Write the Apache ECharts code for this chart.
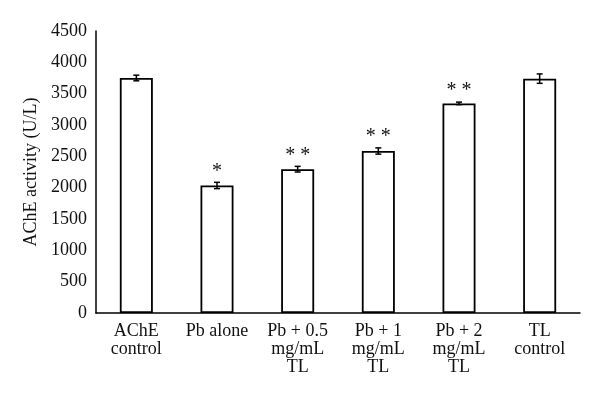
<!DOCTYPE html>
<html>
<head>
<meta charset="utf-8">
<script src="https://cdn.jsdelivr.net/npm/echarts@6/dist/echarts.min.js"></script>
<style>html,body{margin:0;padding:0;background:#fff;}#c{width:600px;height:401px;}</style>
</head>
<body>
<div id="c"></div>
<script>
var categories = ['AChE\ncontrol', 'Pb alone', 'Pb + 0.5\nmg/mL\nTL', 'Pb + 1\nmg/mL\nTL', 'Pb + 2\nmg/mL\nTL', 'TL\ncontrol'];
var values = [3750, 2035, 2295, 2585, 3345, 3740];
var errors = [45, 50, 45, 50, 20, 75];
var stars = ['', '*', '* *', '* *', '* *', ''];
var yTicks = [0, 500, 1000, 1500, 2000, 2500, 3000, 3500, 4000, 4500];

var FONT = 'Liberation Serif';
var chart = echarts.init(document.getElementById('c'), null, {renderer: 'canvas'});
var errData = values.map(function (v, i) { return [i, v, errors[i]]; });

chart.setOption({
  animation: false,
  backgroundColor: '#fff',
  grid: {left: 96, right: 20, top: 31, bottom: 88},
  xAxis: {
    type: 'category',
    data: categories,
    axisLine: {lineStyle: {color: '#000', width: 1.5}},
    axisTick: {show: false},
    axisLabel: {color: '#111', fontFamily: FONT, fontSize: 18, lineHeight: 18, margin: 9, interval: 0}
  },
  yAxis: {
    type: 'value',
    min: yTicks[0],
    max: yTicks[yTicks.length - 1],
    interval: 500,
    name: 'AChE activity (U/L)',
    nameLocation: 'middle',
    nameGap: 52,
    nameTextStyle: {color: '#111', fontFamily: FONT, fontSize: 18},
    axisLine: {show: true, lineStyle: {color: '#000', width: 1.5}},
    axisTick: {show: false},
    splitLine: {show: false},
    axisLabel: {color: '#111', fontFamily: FONT, fontSize: 18, margin: 9,
      formatter: function (v) { return String(v); }}
  },
  series: [
    {
      type: 'bar',
      data: values,
      barWidth: 33,
      itemStyle: {color: '#fff', borderColor: '#000', borderWidth: 1.8}
    },
    {
      type: 'custom',
      data: errData,
      z: 10,
      renderItem: function (params, api) {
        var i = api.value(0), v = api.value(1), e = api.value(2);
        var top = api.coord([i, v + e]);
        var bot = api.coord([i, v - e]);
        var x = top[0];
        var w = 3;
        var st = {stroke: '#000', lineWidth: 1.5};
        var children = [
          {type: 'line', shape: {x1: x, y1: top[1], x2: x, y2: bot[1]}, style: st},
          {type: 'line', shape: {x1: x - w, y1: top[1], x2: x + w, y2: top[1]}, style: st},
          {type: 'line', shape: {x1: x - w, y1: bot[1], x2: x + w, y2: bot[1]}, style: st}
        ];
        if (stars[i]) {
          children.push({
            type: 'text',
            style: {text: stars[i], x: x, y: top[1] - 1, align: 'center', verticalAlign: 'bottom',
              fill: '#111', font: '20px "' + FONT + '"'}
          });
        }
        return {type: 'group', children: children};
      }
    }
  ]
});
</script>
</body>
</html>
